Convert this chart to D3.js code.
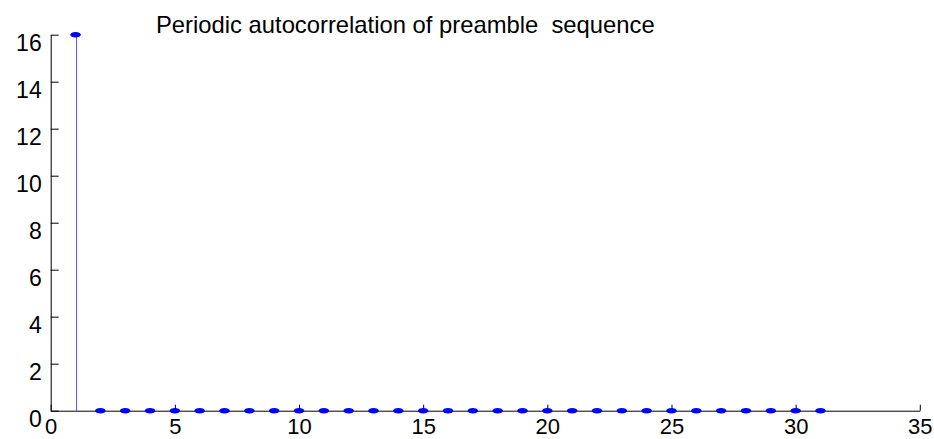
<!DOCTYPE html>
<html><head><meta charset="utf-8">
<script src="https://cdn.jsdelivr.net/npm/d3@7"></script>
<style>html,body{margin:0;padding:0;background:#fff;}svg{display:block;}</style>
</head><body>
<script>
const lags = d3.range(1, 32);
const values = [16].concat(d3.range(30).map(() => 0));
const xTicks = [0,5,10,15,20,25,30,35];
const yTicks = [0,2,4,6,8,10,12,14,16];
const title = "Periodic autocorrelation of preamble  sequence";

const W = 934, H = 439;
const svg = d3.select("body").append("svg").attr("width", W).attr("height", H);
const x = d3.scaleLinear().domain([0,35]).range([50.7, 919.8]);
const y = d3.scaleLinear().domain([0,16]).range([410.7, 34.7]);
const font = "Liberation Sans, Arial, sans-serif";

const xa = svg.append("g").attr("transform", `translate(0,${y(0)})`)
  .call(d3.axisBottom(x).tickValues(xTicks).tickSizeInner(-6).tickSizeOuter(0).tickPadding(0).tickFormat(d3.format("d")));
xa.select(".domain").attr("stroke","#000");
xa.selectAll(".tick line").attr("stroke","#000");
xa.selectAll(".tick text").attr("font-family", font).attr("font-size", 22).attr("fill","#000")
  .attr("dy", null).attr("y", 23.5).attr("transform", "scale(1.04,1)")
  .each(function(){ const p = d3.select(this.parentNode); });
xa.selectAll(".tick text").attr("transform", null).attr("textLength", null);

const ya = svg.append("g").attr("transform", `translate(${x(0)},0)`)
  .call(d3.axisLeft(y).tickValues(yTicks).tickSizeInner(-8).tickSizeOuter(0).tickPadding(0).tickFormat(d3.format("d")));
ya.select(".domain").attr("stroke","#000");
ya.selectAll(".tick line").attr("stroke","#000");
ya.selectAll(".tick text").attr("font-family", font).attr("font-size", 23).attr("fill","#000")
  .attr("x", -9).attr("dy", null).attr("y", 15.7);

const g = svg.append("g");
g.selectAll("line.stem").data(lags.map((d,i)=>[d, values[i]])).join("line")
  .attr("class","stem")
  .attr("x1", d=>Math.round(x(d[0]))+0.5).attr("x2", d=>Math.round(x(d[0]))+0.5)
  .attr("y1", y(0)).attr("y2", d=>y(d[1]))
  .attr("stroke","#5a5aff").attr("stroke-width",1).attr("shape-rendering","crispEdges");
g.selectAll("ellipse").data(lags.map((d,i)=>[d, values[i]])).join("ellipse")
  .attr("cx", d=>x(d[0])).attr("cy", d=>y(d[1]))
  .attr("rx", 5.3).attr("ry", 2.8).attr("fill","#0000ff");

const t = svg.append("text").text(title)
  .attr("font-family", font).attr("font-size", 23).attr("fill","#000")
  .attr("xml:space","preserve").style("white-space","pre")
  .attr("x", 0).attr("y", 0);
const tw = t.node().getComputedTextLength();
const sx = 499 / tw;
t.attr("transform", `translate(156,33) scale(${sx},1)`);
</script>
</body></html>
